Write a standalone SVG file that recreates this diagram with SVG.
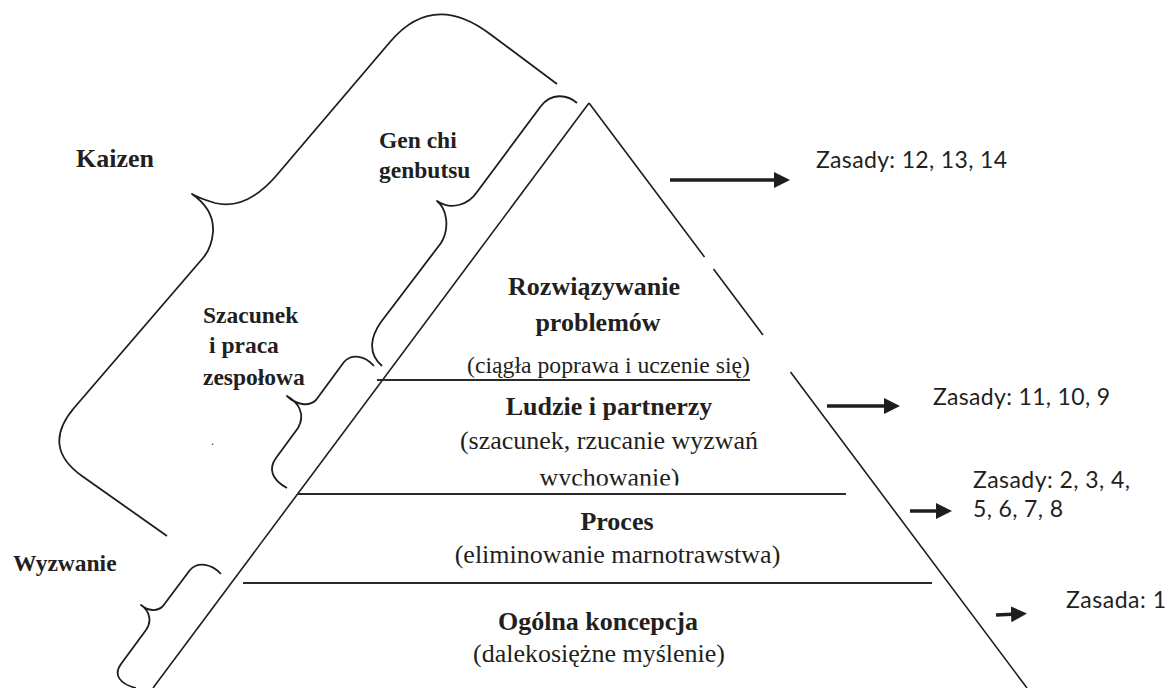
<svg xmlns="http://www.w3.org/2000/svg" width="1168" height="688" viewBox="0 0 1168 688">
<defs>
<style>
.edge{stroke:#1e1e1e;stroke-width:1.6;fill:none;stroke-linecap:butt}
.br{stroke:#1e1e1e;stroke-width:1.8;fill:none;stroke-linejoin:round;stroke-linecap:butt}
.sep{stroke:#2a2a2a;stroke-width:2}
.ttl{font-weight:bold;font-size:26px;fill:#231f20;text-anchor:middle}
.sub{font-size:26px;fill:#231f20;text-anchor:middle}
.lbl{font-weight:bold;font-size:23.5px;fill:#231f20}
.zas{font-size:23px;fill:#231f20}
.arr{stroke:#1e1e1e;stroke-width:3.5;fill:none;marker-end:url(#ah)}
</style>
<marker id="ah" viewBox="0 0 16 16" refX="6" refY="8" markerWidth="16" markerHeight="16" markerUnits="userSpaceOnUse" orient="auto">
<path d="M0,0 L16,8 L0,16 z" fill="#1e1e1e"/>
</marker>
<clipPath id="clipW"><rect x="0" y="0" width="1168" height="485.5"/></clipPath>
</defs>
<rect width="1168" height="688" fill="#ffffff"/>

<g id="pyramid">
<path class="edge" d="M589,103 L153,688"/>
<path class="edge" d="M589,103 L704.5,257 M713.5,269 L763,335 M790.5,372 L1027,688"/>
<line class="sep" x1="377" y1="380" x2="750" y2="380"/>
<line class="sep" x1="298" y1="494" x2="846" y2="494"/>
<line class="sep" x1="243" y1="583" x2="932" y2="583"/>
</g>

<g font-family="Liberation Serif, DejaVu Serif, serif">
<g id="level-problem">
<text class="ttl" x="594" y="295" font-size="25">Rozwiązywanie</text>
<text class="ttl" x="598" y="331">problemów</text>
<text class="sub" x="608.5" y="373" style="font-size:23.7px">(ciągła poprawa i uczenie się)</text>
</g>
<g id="level-people">
<text class="ttl" x="609" y="415">Ludzie i partnerzy</text>
<text class="sub" x="609" y="449">(szacunek, rzucanie wyzwań</text>
<text class="sub" x="609.5" y="486" clip-path="url(#clipW)">wychowanie)</text>
</g>
<g id="level-process">
<text class="ttl" x="617" y="530">Proces</text>
<text class="sub" x="617.5" y="563">(eliminowanie marnotrawstwa)</text>
</g>
<g id="level-philosophy">
<text class="ttl" x="598" y="630">Ogólna koncepcja</text>
<text class="sub" x="599" y="662">(dalekosiężne myślenie)</text>
</g>

<g id="brace-kaizen">
<path class="br" d="M557,84 L490,34 Q433,-9 390,42 L276,176 C255,200 235,208 215,203 C205,200 197,197 192,194 C205,203 214,216 213,232 C212,244 209,251 203,258 L74,408 Q41,447 82,476 L167,536"/>
<text class="lbl" x="76" y="167" style="font-size:26px">Kaizen</text>
</g>
<g id="brace-genchi">
<path class="br" d="M577,103 C567,94 551,93 541,106 L477,192 C469,204 452,211 437,201 C447,209 450,228 441,243 L381,322 C371,336 367,353 382,366"/>
<text class="lbl" x="379" y="148">Gen chi</text>
<text class="lbl" x="379" y="178">genbutsu</text>
</g>
<g id="brace-szacunek">
<path class="br" d="M374,366 C365,356 352,353 344,362 L316,400 C309,407 296,405 287,396 C298,402 306,414 298,428 L276,458 C268,469 272,480 287,488"/>
<text class="lbl" x="203" y="323">Szacunek</text>
<text class="lbl" x="209" y="353">i praca</text>
<text class="lbl" x="203" y="385">zespołowa</text>
<text class="lbl" x="211" y="445" style="font-size:12px;font-weight:normal">.</text>
</g>
<g id="brace-wyzwanie">
<path class="br" d="M221,574 C212,564 198,561 190,570 L163,606 C157,612 148,611 141,605 C150,611 152,622 146,630 L121,664 C113,675 120,684 136,688"/>
<text class="lbl" x="13" y="571">Wyzwanie</text>
</g>
</g>

<g id="connectors">
<line class="arr" x1="670" y1="180" x2="780" y2="180"/>
<line class="arr" x1="827" y1="406" x2="890" y2="406"/>
<line class="arr" x1="910" y1="511" x2="942" y2="511"/>
<line class="arr" x1="996" y1="615" x2="1017" y2="614"/>
</g>

<g id="principles" font-family="Lato, Open Sans, sans-serif">
<text class="zas" x="816" y="168" textLength="191">Zasady: 12, 13, 14</text>
<text class="zas" x="933" y="405" textLength="177">Zasady: 11, 10, 9</text>
<text class="zas" x="973" y="488" textLength="157">Zasady: 2, 3, 4,</text>
<text class="zas" x="973" y="517" textLength="90">5, 6, 7, 8</text>
<text class="zas" x="1066" y="608" textLength="100">Zasada: 1</text>
</g>
</svg>
